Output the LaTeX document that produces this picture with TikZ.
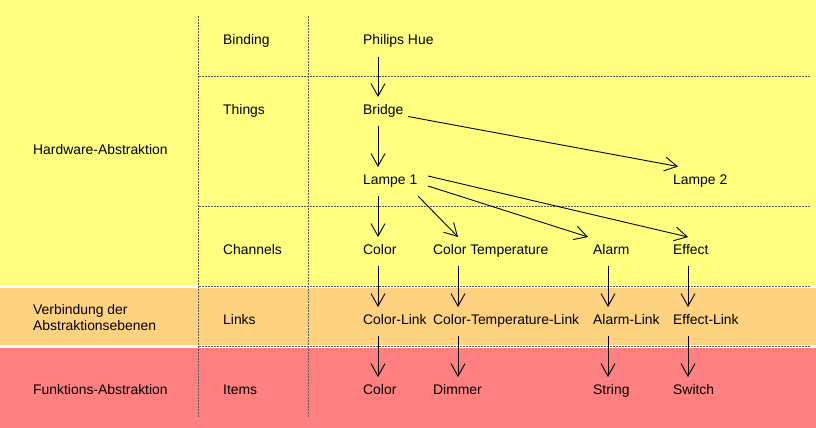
\documentclass[tikz,border=0pt]{standalone}
\usepackage{fontspec}
\setmainfont{Liberation Sans}
\usetikzlibrary{arrows.meta,calc}
\definecolor{hwyellow}{HTML}{FFFF80}
\definecolor{linkorange}{HTML}{FFD280}
\definecolor{fnred}{HTML}{FF8080}
\begin{document}
\begin{tikzpicture}[x=1pt,y=-1pt,
  lbl/.style={anchor=base west,inner sep=0pt,font=\fontsize{13.9}{16}\selectfont},
  grid/.style={draw=black!65,line width=0.8pt,dash pattern=on 2pt off 1pt},
  arr/.style={draw=black,line width=0.9pt,-{Straight Barb[length=12.5pt,width=14pt,line width=0.9pt]}}]
\useasboundingbox (0,0) rectangle (816,428);
\fill[white] (0,0) rectangle (816,428);
\fill[hwyellow] (0,0) rectangle (816,285);
\fill[linkorange] (0,288) rectangle (816,345);
\fill[fnred] (0,348) rectangle (816,428);
% grid lines
\draw[grid] (198.5,16) -- (198.5,417);
\draw[grid] (308.5,16) -- (308.5,417);
\draw[grid] (198.5,76) -- (810,76);
\draw[grid] (198.5,206) -- (810,206);
\draw[grid] (198.5,286) -- (810,286);
\draw[grid] (198.5,346) -- (810,346);
% left labels
\node[lbl] (hw) at (33,154) {Hardware-Abstraktion};
\node[lbl,align=left,anchor=west] (vb) at (33,318) {Verbindung der\\Abstraktionsebenen};
\node[lbl] (fa) at (33,394) {Funktions-Abstraktion};
% layer labels
\node[lbl] (binding) at (223,45) {Binding};
\node[lbl] (things) at (223,114) {Things};
\node[lbl] (channels) at (223,254) {Channels};
\node[lbl] (links) at (223,324) {Links};
\node[lbl] (items) at (223,394) {Items};
% column nodes
\node[lbl] (hue) at (363,45) {Philips Hue};
\node[lbl] (bridge) at (363,114) {Bridge};
\node[lbl] (l1) at (363,184) {Lampe 1};
\node[lbl] (l2) at (673,184) {Lampe 2};
\node[lbl] (ccol) at (363,254) {Color};
\node[lbl] (ctemp) at (433,254) {Color Temperature};
\node[lbl] (calarm) at (593,254) {Alarm};
\node[lbl] (ceff) at (673,254) {Effect};
\node[lbl] (lcol) at (363,324) {Color-Link};
\node[lbl] (ltemp) at (433,324) {Color-Temperature-Link};
\node[lbl] (lalarm) at (593,324) {Alarm-Link};
\node[lbl] (leff) at (673,324) {Effect-Link};
\node[lbl] (icol) at (363,394) {Color};
\node[lbl] (idim) at (433,394) {Dimmer};
\node[lbl] (istr) at (593,394) {String};
\node[lbl] (isw) at (673,394) {Switch};
% vertical arrows
\draw[arr] ([shift={(15,12)}]hue.base west) -- ([shift={(15,-17)}]bridge.base west);
\draw[arr] ([shift={(15,12)}]bridge.base west) -- ([shift={(15,-17)}]l1.base west);
\draw[arr] ([shift={(15,12)}]l1.base west) -- ([shift={(15,-17)}]ccol.base west);
\draw[arr] ([shift={(15,12)}]ccol.base west) -- ([shift={(15,-17)}]lcol.base west);
\draw[arr] ([shift={(15,12)}]lcol.base west) -- ([shift={(15,-17)}]icol.base west);
\draw[arr] ([shift={(25,12)}]ctemp.base west) -- ([shift={(25,-17)}]ltemp.base west);
\draw[arr] ([shift={(25,12)}]ltemp.base west) -- ([shift={(25,-17)}]idim.base west);
\draw[arr] ([shift={(15,12)}]calarm.base west) -- ([shift={(15,-17)}]lalarm.base west);
\draw[arr] ([shift={(15,12)}]lalarm.base west) -- ([shift={(15,-17)}]istr.base west);
\draw[arr] ([shift={(15,12)}]ceff.base west) -- ([shift={(15,-17)}]leff.base west);
\draw[arr] ([shift={(15,12)}]leff.base west) -- ([shift={(15,-17)}]isw.base west);
% diagonal arrows
\draw[arr] ([shift={(45,2.5)}]bridge.base west) -- ([shift={(5,-17.5)}]l2.base west);
\draw[arr] ([shift={(55,12)}]l1.base west) -- ([shift={(25,-17)}]ctemp.base west);
\draw[arr] ([shift={(65,2)}]l1.base west) -- ([shift={(-5,-17)}]calarm.base west);
\draw[arr] ([shift={(65,-8)}]l1.base west) -- ([shift={(15,-17)}]ceff.base west);
\end{tikzpicture}
\end{document}
